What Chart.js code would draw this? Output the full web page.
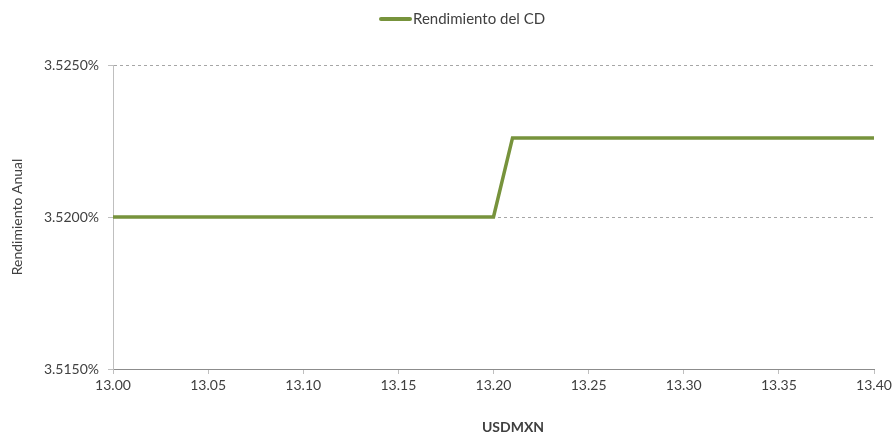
<!DOCTYPE html>
<html><head><meta charset="utf-8">
<script src="https://cdn.jsdelivr.net/npm/chart.js@4/dist/chart.umd.min.js"></script>
<style>html,body{margin:0;padding:0;background:#fff}#wrap{width:896px;height:435px}</style>
</head><body><div id="wrap"><canvas id="c" width="896" height="435"></canvas></div>
<script>
const seriesName = 'Rendimiento del CD';
const usdmxn = [13.00, 13.20, 13.21, 13.40];
const rendimiento = [3.5200, 3.5200, 3.5226, 3.5226];
const xTitle = 'USDMXN';
const yTitle = 'Rendimiento Anual';

const FONT = 'Lato, "Open Sans", sans-serif';
const TXT = '#404040';
const GREEN = '#77933C';

const extras = {
  id: 'extras',
  afterDraw(chart) {
    const c = chart.ctx;
    const ds = chart.data.datasets[0];
    c.save();
    // legend
    c.strokeStyle = ds.borderColor;
    c.lineWidth = 4;
    c.lineCap = 'round';
    c.beginPath();
    c.moveTo(381, 19);
    c.lineTo(410, 19);
    c.stroke();
    c.fillStyle = TXT;
    c.font = '15px ' + FONT;
    c.textBaseline = 'middle';
    c.textAlign = 'left';
    c.fillText(ds.label, 413, 19);
    // x axis title (Excel places it slightly right of centre)
    c.font = 'bold 14px ' + FONT;
    c.textAlign = 'center';
    c.fillText(xTitle, 513, 427);
    c.restore();
  }
};

const ctx = document.getElementById('c').getContext('2d');
new Chart(ctx, {
  type: 'line',
  data: {
    datasets: [{
      label: seriesName,
      data: usdmxn.map((x, i) => ({x: x, y: rendimiento[i]})),
      borderColor: GREEN,
      backgroundColor: GREEN,
      borderWidth: 3.5,
      pointRadius: 0,
      tension: 0,
      fill: false
    }]
  },
  plugins: [extras],
  options: {
    responsive: false,
    animation: false,
    layout: {padding: {top: 65, right: 22, bottom: 0, left: 4}},
    plugins: {
      legend: {display: false},
      tooltip: {enabled: false}
    },
    scales: {
      x: {
        type: 'linear',
        min: 13.0,
        max: 13.4,
        ticks: {
          stepSize: 0.05,
          font: {family: FONT, size: 14},
          color: TXT,
          padding: 3,
          maxRotation: 0,
          callback: v => v.toFixed(2)
        },
        grid: {drawOnChartArea: false, drawTicks: true, tickLength: 5, color: '#BFBFBF', tickColor: '#BFBFBF'},
        border: {color: '#8C8C8C', width: 1},
        title: {display: false},
        afterFit: s => { s.height = 66; }
      },
      y: {
        min: 3.515,
        max: 3.525,
        ticks: {
          stepSize: 0.005,
          font: {family: FONT, size: 14},
          color: TXT,
          padding: 9,
          callback: v => v.toFixed(4) + '%'
        },
        grid: {color: '#A6A6A6', tickBorderDash: [], tickLength: 5, tickColor: '#BFBFBF', drawTicks: true},
        border: {color: '#BFBFBF', width: 1, dash: [3, 3]},
        title: {display: true, text: yTitle, font: {family: FONT, size: 14}, color: TXT, padding: {top: 5, bottom: 0}},
        afterFit: s => { s.width = 109; }
      }
    }
  }
});
</script></body></html>
